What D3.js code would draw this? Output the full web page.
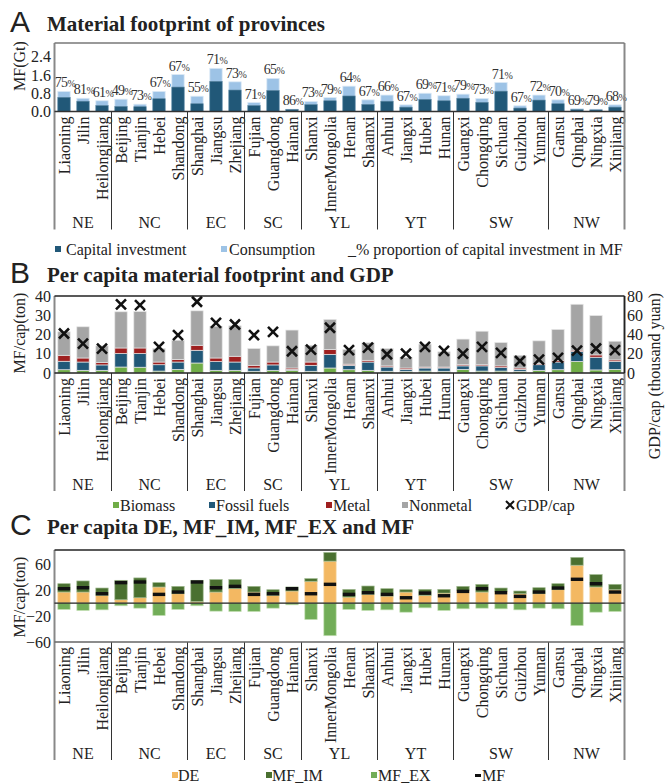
<!DOCTYPE html>
<html><head><meta charset="utf-8">
<script src="https://cdn.jsdelivr.net/npm/d3@7"></script>
<style>
body{margin:0;background:#fff}
svg text{font-family:"Liberation Serif","Times New Roman",serif;fill:#222}
</style>
</head><body>
<svg id="c" width="671" height="784"></svg>
<script>
// ---------- DATA ----------
const provinces = ["Liaoning","Jilin","Heilongjiang","Beijing","Tianjin","Hebei","Shandong","Shanghai","Jiangsu","Zhejiang","Fujian","Guangdong","Hainan","Shanxi","InnerMongolia","Henan","Shaanxi","Anhui","Jiangxi","Hubei","Hunan","Guangxi","Chongqing","Sichuan","Guizhou","Yunnan","Gansu","Qinghai","Ningxia","Xinjiang"];
const regions = ["NE","NC","EC","SC","YL","YT","SW","NW"];
const regionSizes = [3,4,3,3,4,4,5,4];

// Panel A: material footprint (Gt)
const mfTotal   = [0.88,0.58,0.47,0.54,0.32,0.88,1.62,0.67,1.89,1.30,0.39,1.45,0.10,0.44,0.61,1.11,0.51,0.72,0.29,0.80,0.69,0.76,0.57,1.27,0.25,0.72,0.51,0.13,0.10,0.29];
const mfCapital = [0.62,0.45,0.26,0.22,0.21,0.56,1.07,0.34,1.32,0.94,0.26,0.92,0.09,0.30,0.47,0.68,0.31,0.45,0.19,0.53,0.47,0.58,0.40,0.89,0.15,0.50,0.34,0.08,0.07,0.19];
const capitalPct = [75,81,61,49,73,67,67,55,71,73,71,65,86,73,79,64,67,66,67,69,71,79,73,71,67,72,70,69,79,68];
const ticksA = [0,0.8,1.6,2.4];

// Panel B: per capita MF by material (ton) and GDP/cap (thousand yuan)
const biomass  = [1.7,1.4,1.4,3.1,3.0,1.0,1.9,5.2,1.4,1.4,0.9,1.4,1.4,0.9,2.6,1.7,1.4,0.9,0.9,1.0,0.9,1.9,1.0,1.0,0.9,1.4,1.7,6.0,1.6,1.9];
const fossil   = [4.4,4.3,2.8,7.0,7.1,3.3,3.8,6.6,4.5,4.3,1.7,2.8,0.5,3.1,7.1,2.3,4.3,2.2,1.0,1.6,1.7,1.8,2.7,1.8,1.0,2.9,4.0,5.1,6.6,4.1];
const metal    = [3.1,2.1,1.2,2.9,2.9,1.4,1.3,2.6,1.9,3.0,1.4,1.5,0.7,1.7,2.5,0.6,0.9,0.6,0.7,0.5,0.5,0.6,0.6,0.9,0.7,0.6,0.9,0.8,1.2,0.8];
const nonmetal = [12.2,16.2,8.7,18.8,18.9,7.0,10.0,17.9,16.5,15.8,8.7,8.4,19.7,8.7,15.6,7.6,9.1,9.0,5.4,11.9,7.9,13.3,17.4,12.1,6.6,11.8,16.0,23.8,20.4,9.7];
const gdpCap   = [41,30.6,25.4,71.3,70.6,27.1,39.3,74,52,50.4,39.3,42.8,22.6,24.3,47,23.7,26.4,19.5,20.2,27.1,23,20.2,27.1,20.9,12.5,13.9,15.7,23.2,25.5,23.8];
const ticksB = [0,10,20,30,40];
const ticksB2 = [0,20,40,60,80];

// Panel C: per capita DE, MF_IM, MF_EX, MF (ton)
const deCap = [17.1,17.1,11.9,5.2,8.3,24.9,14.5,2.6,17.1,22.3,17.1,11.9,18.7,33.7,64.8,9.3,13.5,10.9,17.1,11.9,15.5,19.7,17.1,18.1,14.5,14.5,20.7,58.5,24.9,20.7];
const imCap = [12.9,17.1,11.4,30.0,30.6,6.7,11.4,32.6,19.2,14.0,8.8,8.8,6.2,4.1,13.4,11.9,12.9,11.4,3.6,9.3,5.7,6.2,11.9,5.2,4.2,9.3,9.3,12.0,19.1,8.3];
const exCap = [-9.8,-11.4,-10.4,-4.1,-7.8,-19.2,-9.8,-4.1,-12.4,-13.0,-13.0,-7.8,-2.6,-25.4,-50.3,-9.8,-11.4,-10.4,-14.0,-7.3,-11.4,-8.8,-7.8,-8.8,-10.4,-7.8,-8.8,-34.7,-14.0,-13.0];
const mfCap = [22.3,23.8,14.5,31.6,32.6,13.5,17.1,32.6,23.8,25.9,13.5,14.5,22.3,14.5,29.0,13.5,16.1,13.5,8.3,15.5,11.4,18.1,22.3,16.1,10.4,17.1,23.3,36.8,30.0,17.1];
const ticksC = [-60,-20,20,60];

// ---------- STYLE ----------
const C = {
  capital:"#215878", consumption:"#9dc3e6",
  biomass:"#70ad47", fossil:"#215878", metal:"#9e1f1f", nonmetal:"#a5a5a5",
  de:"#f3b862", im:"#4a7030", ex:"#72ad58", mf:"#111"
};
const svg = d3.select("#c");
const X0 = 54.5, X1 = 624.5;
const x = d3.scaleBand().domain(provinces).range([X0, X1]).paddingInner(0.35).paddingOuter(0.175);
const bw = x.bandwidth();
const cx = d => x(d) + bw/2;
const FS = "16px";

function letterTitle(letter, title, baseline){
  svg.append("text").attr("x",10).attr("y",baseline+1)
    .style("font-family","'Liberation Sans',Arial,sans-serif").style("font-size","30px").style("fill","#222")
    .text(letter);
  svg.append("text").attr("x",47).attr("y",baseline)
    .style("font-size","21px").style("font-weight","bold").text(title);
}

function frame(g, top, axisY, bottomLine, opts){
  const sepEnd = bottomLine + 118;
  g.append("g").selectAll("text").data(provinces).join("text")
    .attr("transform", d => `translate(${cx(d)},${bottomLine+5}) rotate(-90)`)
    .attr("text-anchor","end").attr("dy","0.35em").style("font-size",FS).text(d=>d);
  let k = 0;
  const bounds = [0];
  regionSizes.forEach(s => { k += s; bounds.push(k); });
  g.append("g").selectAll("text").data(regions).join("text")
    .attr("x",(d,i)=> X0 + (bounds[i]+bounds[i+1])/2*x.step())
    .attr("y", bottomLine+111).attr("dy","0.35em").attr("text-anchor","middle")
    .style("font-size",FS).text(d=>d);
  g.append("g").selectAll("line").data(bounds.slice(1,-1)).join("line")
    .attr("x1",b=>X0+b*x.step()).attr("x2",b=>X0+b*x.step())
    .attr("y1",bottomLine).attr("y2",sepEnd).attr("stroke","#333").attr("stroke-width",1);
  [X0, X1].forEach(xx => {
    g.append("line").attr("x1",xx).attr("x2",xx).attr("y1",top).attr("y2",sepEnd)
      .attr("stroke","#888").attr("stroke-width",2);
  });
  g.append("line").attr("x1",X0).attr("x2",X1).attr("y1",top).attr("y2",top)
    .attr("stroke",opts.topColor).attr("stroke-width",1.5);
  g.append("line").attr("x1",X0).attr("x2",X1).attr("y1",bottomLine).attr("y2",bottomLine)
    .attr("stroke",opts.bottomColor).attr("stroke-width",1.5);
}

function leftTicks(g, y, ticks, fmt){
  g.append("g").selectAll("text").data(ticks).join("text")
    .attr("x",51).attr("y",d=>y(d)).attr("dy","0.35em").attr("text-anchor","end")
    .style("font-size",FS).text(fmt);
}
function yLabel(g, xx, yy, txt, anchor){
  g.append("text").attr("transform",`translate(${xx},${yy}) rotate(-90)`)
    .attr("text-anchor",anchor||"middle").attr("dy","0.35em").style("font-size",FS).text(txt);
}
function legendSquare(g, xx, yy, color, label, tx){
  g.append("rect").attr("x",xx).attr("y",yy-3).attr("width",6).attr("height",6).attr("fill",color);
  g.append("text").attr("x",tx).attr("y",yy).attr("dy","0.35em").style("font-size",FS).text(label);
}

// ---------- PANEL A ----------
letterTitle("A","Material footprint of provinces",31);
const gA = svg.append("g");
const yA = d3.scaleLinear().domain([0,3]).range([111.5,43]);
const dataA = provinces.map((p,i)=>({p, total:mfTotal[i], cap:mfCapital[i], pct:capitalPct[i]}));
gA.append("g").selectAll("rect").data(dataA).join("rect")
  .attr("x",d=>x(d.p)).attr("width",bw).attr("y",d=>yA(d.total)).attr("height",d=>yA(0)-yA(d.total))
  .attr("fill",C.consumption).attr("stroke","#dbe9f6").attr("stroke-width",0.8);
gA.append("g").selectAll("rect").data(dataA).join("rect")
  .attr("x",d=>x(d.p)).attr("width",bw).attr("y",d=>yA(d.cap)).attr("height",d=>yA(0)-yA(d.cap))
  .attr("fill",C.capital).attr("stroke","#5c86a0").attr("stroke-width",0.6);
const pctT = gA.append("g").selectAll("text").data(dataA).join("text")
  .attr("x",d=>cx(d.p)+1).attr("y",d=>yA(d.total)-4).attr("text-anchor","middle")
  .style("letter-spacing","-0.6px").style("fill","#333");
pctT.append("tspan").style("font-size","14px").text(d=>d.pct);
pctT.append("tspan").style("font-size","10px").text("%");
frame(gA, 43, yA(0), yA(0), {topColor:"#777", bottomColor:"#333"});
leftTicks(gA, yA, ticksA, d3.format(".1f"));
yLabel(gA, 19, 66, "MF(Gt)");
legendSquare(gA, 55, 249, C.capital, "Capital investment", 66);
legendSquare(gA, 221, 249, C.consumption, "Consumption", 229);
gA.append("text").attr("x",348).attr("y",249).attr("dy","0.35em").style("font-size",FS)
  .text("_%  proportion of capital investment in MF");

// ---------- PANEL B ----------
letterTitle("B","Per capita material footprint and GDP",282);
const gB = svg.append("g");
const yB = d3.scaleLinear().domain([0,40]).range([373,296]);
const yB2 = d3.scaleLinear().domain([0,80]).range([373,296]);
const keysB = ["biomass","fossil","metal","nonmetal"];
const dataB = provinces.map((p,i)=>({p, biomass:biomass[i], fossil:fossil[i], metal:metal[i], nonmetal:nonmetal[i], gdp:gdpCap[i]}));
const stackB = d3.stack().keys(keysB)(dataB);
gB.append("g").selectAll("g").data(stackB).join("g").attr("fill",s=>C[s.key])
  .selectAll("rect").data(s=>s).join("rect")
  .attr("x",d=>x(d.data.p)).attr("width",bw)
  .attr("y",d=>yB(d[1])).attr("height",d=>yB(d[0])-yB(d[1]))
  .attr("stroke","#e4e4e4").attr("stroke-width",0.7);
frame(gB, 296, yB(0), yB(0), {topColor:"#222", bottomColor:"#222"});
gB.append("line").attr("x1",X1).attr("x2",X1).attr("y1",296).attr("y2",373).attr("stroke","#222").attr("stroke-width",1.5);
const xs = 5;
gB.append("g").selectAll("path").data(dataB).join("path")
  .attr("d",d=>{const px=cx(d.p), py=yB2(d.gdp); return `M${px-xs},${py-xs}L${px+xs},${py+xs}M${px-xs},${py+xs}L${px+xs},${py-xs}`;})
  .attr("stroke","#111").attr("stroke-width",2.6).attr("fill","none");
leftTicks(gB, yB, ticksB, d3.format("d"));
gB.append("g").selectAll("text").data(ticksB2).join("text")
  .attr("x",627).attr("y",d=>yB2(d)).attr("dy","0.35em").style("font-size",FS).text(d=>d);
yLabel(gB, 19, 333, "MF/cap(ton)");
yLabel(gB, 654, 293, "GDP/cap (thousand yuan)", "end");
legendSquare(gB, 113, 505, C.biomass, "Biomass", 120);
legendSquare(gB, 209, 505, C.fossil, "Fossil fuels", 216);
legendSquare(gB, 326, 505, C.metal, "Metal", 333);
legendSquare(gB, 402, 505, C.nonmetal, "Nonmetal", 409);
gB.append("path").attr("d","M506,501L514,509M506,509L514,501").attr("stroke","#111").attr("stroke-width",2);
gB.append("text").attr("x",516).attr("y",505).attr("dy","0.35em").style("font-size",FS).text("GDP/cap");

// ---------- PANEL C ----------
letterTitle("C","Per capita DE, MF_IM, MF_EX and MF",534);
const gC = svg.append("g");
const yC = d3.scaleLinear().domain([-60,82]).range([642,550]);
const dataC = provinces.map((p,i)=>({p, de:deCap[i], im:imCap[i], ex:exCap[i], mf:mfCap[i]}));
gC.append("g").selectAll("rect").data(dataC).join("rect")
  .attr("x",d=>x(d.p)).attr("width",bw).attr("y",d=>yC(d.de)).attr("height",d=>yC(0)-yC(d.de))
  .attr("fill",C.de).attr("stroke","#f8dcae").attr("stroke-width",0.7);
gC.append("g").selectAll("rect").data(dataC).join("rect")
  .attr("x",d=>x(d.p)).attr("width",bw).attr("y",d=>yC(d.de+d.im)).attr("height",d=>yC(d.de)-yC(d.de+d.im))
  .attr("fill",C.im).attr("stroke","#9fb88f").attr("stroke-width",0.7);
gC.append("g").selectAll("rect").data(dataC).join("rect")
  .attr("x",d=>x(d.p)).attr("width",bw).attr("y",yC(0)).attr("height",d=>yC(d.ex)-yC(0))
  .attr("fill",C.ex).attr("stroke","#c5e0b6").attr("stroke-width",0.7);
gC.append("g").selectAll("rect").data(dataC).join("rect")
  .attr("x",d=>x(d.p)).attr("width",bw).attr("y",d=>yC(d.mf)-1.7).attr("height",3.4)
  .attr("fill",C.mf);
frame(gC, 550, yC(0), 642, {topColor:"#222", bottomColor:"#666"});
gC.append("line").attr("x1",X0).attr("x2",X1).attr("y1",yC(0)).attr("y2",yC(0)).attr("stroke","#222").attr("stroke-width",1.2);
leftTicks(gC, yC, ticksC, d3.format("d"));
yLabel(gC, 19, 597, "MF/cap(ton)");
legendSquare(gC, 172, 775, C.de, "DE", 178);
legendSquare(gC, 266, 775, C.im, "MF_IM", 272);
legendSquare(gC, 371, 775, C.ex, "MF_EX", 378);
gC.append("rect").attr("x",475).attr("y",774).attr("width",6).attr("height",3).attr("fill","#111");
gC.append("text").attr("x",482).attr("y",775).attr("dy","0.35em").style("font-size",FS).text("MF");
</script>
</body></html>
